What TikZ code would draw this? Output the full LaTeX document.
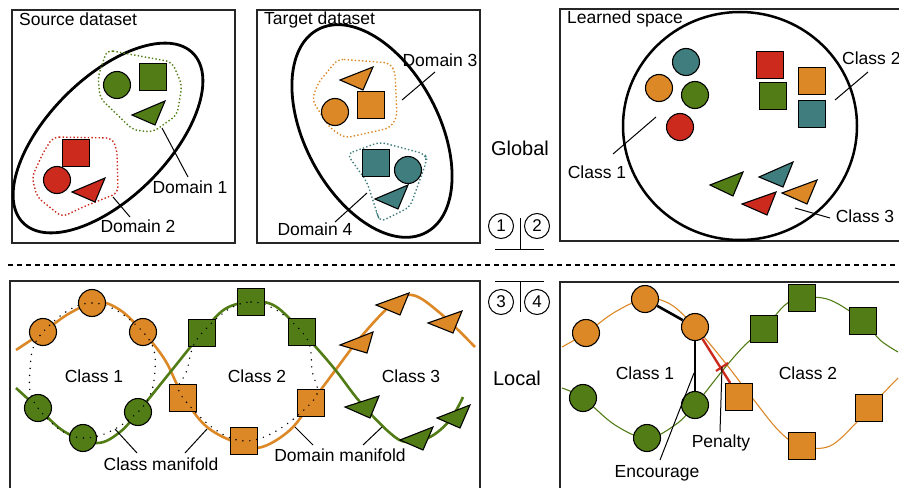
\documentclass[tikz,border=0pt]{standalone}
\usepackage{fontspec}
\setmainfont{Liberation Sans}
\definecolor{cOr}{RGB}{220,136,38}
\definecolor{cGr}{RGB}{82,125,22}
\definecolor{cRd}{RGB}{205,42,30}
\definecolor{cTl}{RGB}{64,125,126}
\tikzset{
  panel/.style={draw=black!85, line width=1.3pt},
  blob/.style={draw=black, line width=1.1pt},
  dotc/.style={circle, blob, minimum size=27pt, inner sep=0pt},
  sq/.style={rectangle, blob, minimum size=27pt, inner sep=0pt},
  lbl/.style={font=\fontsize{17.5}{20}\selectfont, inner sep=0pt},
  biglbl/.style={font=\fontsize{20}{24}\selectfont, inner sep=0pt},
  numc/.style={circle, draw=black, line width=1pt, minimum size=25pt, inner sep=0pt, font=\fontsize{17}{20}\selectfont},
  leader/.style={draw=black, line width=1pt},
  hull/.style={line width=1.4pt, dash pattern=on 1.4pt off 2.2pt, rounded corners=6pt},
  wave/.style={line width=2.6pt},
  thinwave/.style={line width=1.1pt},
  manifold/.style={line width=1.6pt, dash pattern=on 0pt off 7pt, line cap=round},
}
\begin{document}
\begin{tikzpicture}[x=1pt, y=-1pt]
\useasboundingbox (0,0) rectangle (899,487);

% ---------------- panel frames ----------------
\draw[panel] (12,10) rectangle (235,243);
\draw[panel] (257,10) rectangle (480,243);
\draw[panel] (560,9) rectangle (910,241);
\draw[panel] (10,281) rectangle (480,500);
\draw[panel] (560,282) rectangle (910,500);
\draw[line width=1.3pt, dash pattern=on 5pt off 4pt] (8,265) -- (899,265);

% ---------------- source dataset ----------------
\node[lbl, anchor=west] (tsrc) at (19,19) {Source dataset};
\draw[line width=2.8pt, rotate around={45:(108,138)}] (108,138) ellipse [x radius=120pt, y radius=60pt];
\draw[hull, cGr] (107,50) -- (172,62) -- (182,85) -- (177,115) -- (153,132) -- (133,130) -- (100,98) -- (98,77) -- cycle;
\draw[hull, cRd] (53,137) -- (112,138) -- (117,150) -- (118,193) -- (83,207) -- (62,217) -- (37,197) -- (32,177) -- (43,153) -- cycle;
\node[dotc, fill=cGr] (sg1) at (117,85) {};
\node[sq, fill=cGr] (sg2) at (153,77) {};
\draw[blob, fill=cGr] (132,115) -- (165,101) -- (155,125) -- cycle;
\node[sq, fill=cRd] (sr2) at (76,153) {};
\node[dotc, fill=cRd] (sr1) at (57,180) {};
\draw[blob, fill=cRd] (72,192) -- (105,178) -- (95,202) -- cycle;
\node[lbl] (d1) at (190,187) {Domain 1};
\node[lbl] (d2) at (138,226) {Domain 2};
\coordinate (d1p) at (162,128);
\coordinate (d2p) at (113,197);
\draw[leader] (d1p) -- (188,177);
\draw[leader] (d2p) -- (130,217);

% ---------------- target dataset ----------------
\node[lbl, anchor=west] (ttgt) at (264,20) {Target dataset};
\draw[line width=2.8pt, rotate around={-62:(372,131)}] (372,131) ellipse [x radius=115pt, y radius=67pt];
\draw[hull, cOr] (338,59) -- (390,63) -- (395,72) -- (397,117) -- (390,128) -- (345,138) -- (330,128) -- (312,100) -- (318,83) -- cycle;
\draw[hull, cTl] (347,154) -- (380,142) -- (425,154) -- (427,160) -- (410,207) -- (380,222) -- (377,213) -- (367,182) -- cycle;
\draw[blob, fill=cOr] (340,80) -- (373,67) -- (363,90) -- cycle;
\node[dotc, fill=cOr] (to1) at (335,112) {};
\node[sq, fill=cOr] (to2) at (371,105) {};
\node[sq, fill=cTl] (tt2) at (376,163) {};
\node[dotc, fill=cTl] (tt1) at (408,170) {};
\draw[blob, fill=cTl] (375,199) -- (408,185) -- (398,209) -- cycle;
\node[lbl] (d3) at (440,60) {Domain 3};
\node[lbl] (d4) at (315,229) {Domain 4};
\coordinate (d3p) at (402,100);
\coordinate (d4p) at (367,193);
\draw[leader] (d3p) -- (435,72);
\draw[leader] (d4p) -- (335,222);

% ---------------- learned space ----------------
\node[lbl, anchor=west] (tls) at (567,19) {Learned space};
\draw[line width=2.5pt] (740,126) ellipse [x radius=117pt, y radius=114pt];
\node[dotc, fill=cTl] (lc1) at (686,62) {};
\node[dotc, fill=cOr] (lc2) at (659,88) {};
\node[dotc, fill=cGr] (lc3) at (695,95) {};
\node[dotc, fill=cRd] (lc4) at (680,127) {};
\node[sq, fill=cRd] (ls1) at (770,65) {};
\node[sq, fill=cGr] (ls2) at (773,96) {};
\node[sq, fill=cOr] (ls3) at (812,81) {};
\node[sq, fill=cTl] (ls4) at (812,114) {};
\draw[blob, fill=cGr] (710,185) -- (743,172) -- (733,196) -- cycle;
\draw[blob, fill=cTl] (759,177) -- (793,162) -- (783,187) -- cycle;
\draw[blob, fill=cRd] (742,204) -- (776,192) -- (767,215) -- cycle;
\draw[blob, fill=cOr] (782,193) -- (817,180) -- (807,204) -- cycle;
\node[lbl] (lcl1) at (597,172) {Class 1};
\node[lbl, anchor=west] (lcl2) at (842,58) {Class 2};
\node[lbl] (lcl3) at (865,216) {Class 3};
\coordinate (l1p) at (656,117);
\coordinate (l2p) at (835,100);
\coordinate (l3p) at (795,208);
\draw[leader] (l1p) -- (613,154);
\draw[leader] (l2p) -- (868,72);
\draw[leader] (l3p) -- (830,218);

% ---------------- middle column ----------------
\node[biglbl] (glob) at (520,148) {Global};
\node[biglbl] (loc) at (517,378) {Local};
\node[numc] (n1) at (501,226) {1};
\node[numc] (n2) at (537,226) {2};
\node[numc] (n3) at (501,302) {3};
\node[numc] (n4) at (537,302) {4};
\draw[line width=1pt] (520,218) -- (520,249);
\draw[line width=1pt] (495,249) -- (544,249);
\draw[line width=1pt] (495,281) -- (544,281);
\draw[line width=1pt] (520,281) -- (520,312);

% ---------------- local structure, left ----------------
\draw[wave, cOr] plot[smooth, tension=0.6] coordinates {(16,350) (43,332) (70,313) (97,302) (120,310) (143,332) (165,360) (183,396) (207,427) (240,444) (262,447) (290,430) (311,403) (337,368) (360,338) (390,306) (412,295) (440,313) (475,347)};
\draw[wave, cGr] plot[smooth, tension=0.6] coordinates {(16,388) (38,408) (65,432) (97,443) (120,432) (138,412) (172,370) (202,333) (225,309) (251,302) (275,306) (302,332) (333,367) (360,402) (390,433) (407,442) (430,437) (450,420) (463,397)};
\node[dotc, fill=cOr] (a1) at (43,332) {};
\node[dotc, fill=cOr] (a2) at (92,303) {};
\node[dotc, fill=cOr] (a3) at (143,332) {};
\node[dotc, fill=cGr] (a4) at (38,408) {};
\node[dotc, fill=cGr] (a5) at (83,438) {};
\node[dotc, fill=cGr] (a6) at (138,412) {};
\node[sq, fill=cGr] (b1) at (202,333) {};
\node[sq, fill=cGr] (b2) at (251,302) {};
\node[sq, fill=cGr] (b3) at (302,332) {};
\node[sq, fill=cOr] (b4) at (183,398) {};
\node[sq, fill=cOr] (b5) at (244,441) {};
\node[sq, fill=cOr] (b6) at (311,403) {};
\draw[blob, fill=cOr] (340,345) -- (373,332) -- (367,353) -- cycle;
\draw[blob, fill=cOr] (376,305) -- (409,293) -- (400,315) -- cycle;
\draw[blob, fill=cOr] (428,323) -- (462,311) -- (453,333) -- cycle;
\draw[blob, fill=cGr] (345,407) -- (379,396) -- (370,418) -- cycle;
\draw[blob, fill=cGr] (400,440) -- (433,427) -- (423,450) -- cycle;
\draw[blob, fill=cGr] (437,418) -- (470,405) -- (460,428) -- cycle;
% class manifolds
\draw[manifold] plot[smooth cycle, tension=0.7] coordinates {(43,332) (92,303) (143,332) (155,370) (138,412) (83,438) (38,408) (30,370)};
\draw[manifold] plot[smooth cycle, tension=0.7] coordinates {(202,333) (251,302) (302,332) (312,370) (311,403) (244,441) (183,398) (187,370)};
\node[lbl] (c1) at (94,376) {Class 1};
\node[lbl] (c2) at (257,376) {Class 2};
\node[lbl] (c3) at (411,376) {Class 3};
\node[lbl] (cm) at (161,464) {Class manifold};
\node[lbl] (dm) at (340,455) {Domain manifold};
\coordinate (cm1) at (115,429);
\coordinate (cm2) at (207,429);
\coordinate (dm1) at (295,427);
\coordinate (dm2) at (382,427);
\draw[leader] (cm1) -- (137,453);
\draw[leader] (cm2) -- (185,453);
\draw[leader] (dm1) -- (313,445);
\draw[leader] (dm2) -- (363,445);

% ---------------- local structure, right ----------------
\draw[thinwave, cOr] plot[smooth, tension=0.6] coordinates {(562,347) (586,333) (615,312) (645,299) (670,304) (695,327) (723,360) (750,395) (780,432) (802,446) (830,446) (857,422) (869,408) (898,378)};
\draw[thinwave, cGr] plot[smooth, tension=0.6] coordinates {(562,388) (583,398) (615,425) (647,438) (675,425) (695,405) (723,370) (745,345) (764,329) (785,305) (802,298) (830,300) (863,321) (880,340) (898,352)};
\node[dotc, fill=cOr] (r1) at (586,333) {};
\node[dotc, fill=cOr] (r2) at (645,299) {};
\node[dotc, fill=cOr] (r3) at (695,327) {};
\node[dotc, fill=cGr] (r4) at (583,398) {};
\node[dotc, fill=cGr] (r5) at (647,438) {};
\node[dotc, fill=cGr] (r6) at (695,405) {};
\node[sq, fill=cGr] (q1) at (764,329) {};
\node[sq, fill=cGr] (q2) at (802,298) {};
\node[sq, fill=cGr] (q3) at (863,321) {};
\node[sq, fill=cOr] (q4) at (739,397) {};
\node[sq, fill=cOr] (q5) at (802,446) {};
\node[sq, fill=cOr] (q6) at (869,408) {};
\draw[line width=2.6pt] (r2) -- (r3);
\draw[line width=2.6pt] (r3) -- (r6);
\draw[line width=2.4pt, cRd] (r3) -- (q4);
\coordinate (pbar) at (722,367);
\draw[line width=2.2pt, cRd] (716,371) -- (728,363);
\node[lbl] (cr1) at (645,373) {Class 1};
\node[lbl] (cr2) at (808,373) {Class 2};
\node[lbl] (pen) at (721,443) {Penalty};
\node[lbl] (enc) at (657,473) {Encourage};
\coordinate (encp) at (694,373);
\draw[leader] (pbar) -- (720,432);
\draw[leader] (encp) -- (660,460);
\end{tikzpicture}
\end{document}
